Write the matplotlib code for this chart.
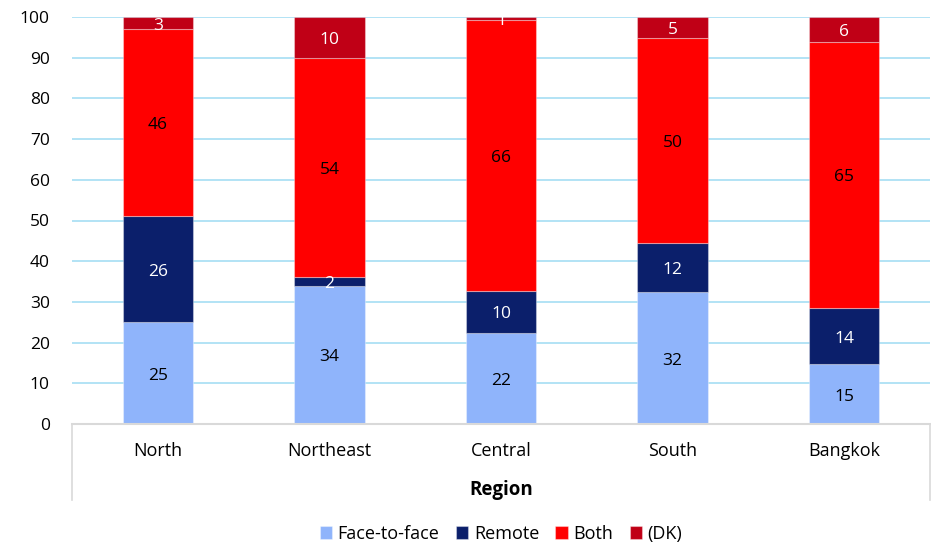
import numpy as np
import matplotlib.pyplot as plt
from matplotlib.lines import Line2D

# data
regions = ["North", "Northeast", "Central", "South", "Bangkok"]
face = [25, 34, 22.4, 32.4, 14.7]
remote = [26, 2, 10.4, 12.1, 13.8]
both = [46, 54, 66.4, 50.4, 65.4]
dk = [3, 10, 0.8, 5.1, 6.1]

series = [("Face-to-face", face, "#8fb4fb", "black"),
          ("Remote", remote, "#0b1f6b", "white"),
          ("Both", both, "#ff0000", "black"),
          ("(DK)", dk, "#c00016", "white")]

plt.rcParams['font.family'] = ['Open Sans', 'DejaVu Sans']

fig = plt.figure(figsize=(9.31, 5.43), dpi=100)
ax = fig.add_axes([72/931, 1 - 424/543, (930 - 72)/931, (424 - 17)/543])

x = np.arange(len(regions))
bottom = np.zeros(len(regions))
for name, vals, col, tcol in series:
    vals = np.array(vals, dtype=float)
    ax.bar(x, vals, 0.41, bottom=bottom, color=col, label=name,
           edgecolor=(1, 1, 1, 0.35), linewidth=0.8, zorder=3)
    for xi, b, v in zip(x, bottom, vals):
        ax.text(xi, b + v / 2 - 0.6, "%d" % round(v), ha="center", va="center",
                color=tcol, fontsize=12.5, zorder=4)
    bottom += vals

ax.set_xlim(-0.5, len(regions) - 0.5)
ax.set_ylim(0, 100)
ax.set_yticks(range(0, 101, 10))
ax.yaxis.grid(True, color="#a6def3", linewidth=1.2, zorder=0)
ax.set_axisbelow(True)
for s in ["left", "right", "top"]:
    ax.spines[s].set_visible(False)
ax.spines["bottom"].set_color("#d9d9d9")
ax.spines["bottom"].set_linewidth(1.5)
ax.spines["bottom"].set_zorder(5)
ax.tick_params(axis="y", length=0, labelsize=12.5, pad=16)
ax.tick_params(axis="x", length=0, labelsize=13, pad=13)
ax.set_xticks(x)
ax.set_xticklabels(regions)
ax.set_xlabel("Region", fontsize=13.5, fontweight="bold", labelpad=14)

# category box lines below the axis
for xx in (0, 1):
    ax.add_line(Line2D([xx, xx], [0, -76/407], transform=ax.transAxes,
                       color="#d9d9d9", linewidth=1.2, clip_on=False))

ax.legend(loc="center", bbox_to_anchor=(0.5, -0.27), ncol=4, frameon=False,
          fontsize=13, handlelength=0.7, handleheight=0.7, handletextpad=0.3,
          columnspacing=0.9)

fig.savefig("out.png", dpi=100)
